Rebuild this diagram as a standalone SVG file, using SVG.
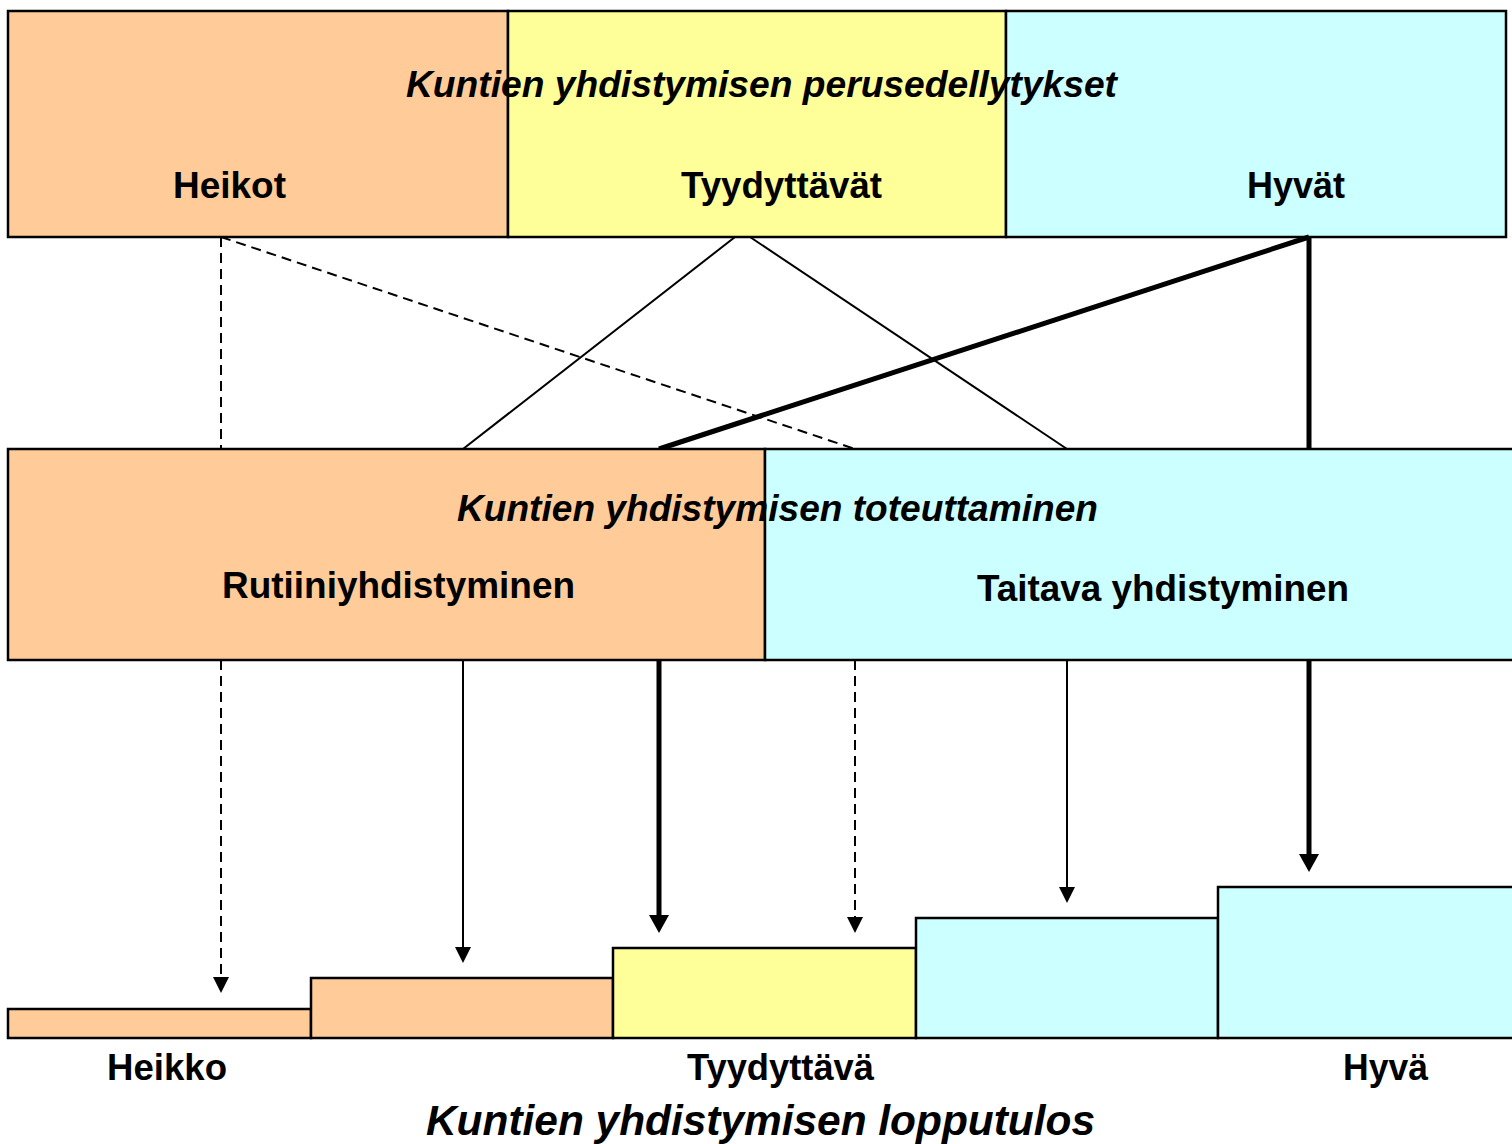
<svg xmlns="http://www.w3.org/2000/svg" width="1512" height="1144" viewBox="0 0 1512 1144">
<style>
.or{fill:#FFCC99}.ye{fill:#FFFF99}.cy{fill:#CCFFFF}
.box{stroke:#000;stroke-width:2.5}
.t{font-family:"Liberation Sans",Arial,sans-serif;font-weight:bold;fill:#000;text-anchor:middle}
.it{font-style:italic}
.thin{stroke:#000;stroke-width:2;fill:none}
.thick{stroke:#000;stroke-width:5;fill:none}
.dash{stroke:#000;stroke-width:2;fill:none;stroke-dasharray:10 6}
</style>
<defs>
<marker id="ah" markerUnits="userSpaceOnUse" markerWidth="16" markerHeight="16" refX="0" refY="8" orient="auto" viewBox="0 0 16 16">
<path d="M0,0 L16,8 L0,16 Z" fill="#000"/>
</marker>
<marker id="ahb" markerUnits="userSpaceOnUse" markerWidth="18" markerHeight="20" refX="0" refY="10" orient="auto" viewBox="0 0 18 20">
<path d="M0,0 L18,10 L0,20 Z" fill="#000"/>
</marker>
</defs>
<rect width="1512" height="1144" fill="#fff"/>
<g id="top">
<rect x="8" y="11" width="500" height="226" class="or box"/>
<rect x="508" y="11" width="498" height="226" class="ye box"/>
<rect x="1006" y="11" width="500" height="226" class="cy box"/>
<text class="t it" x="761.5" y="97" font-size="36" textLength="711" lengthAdjust="spacingAndGlyphs">Kuntien yhdistymisen perusedellytykset</text>
<text class="t" x="229.5" y="198" font-size="36" textLength="113" lengthAdjust="spacingAndGlyphs">Heikot</text>
<text class="t" x="781.5" y="198" font-size="36" textLength="201" lengthAdjust="spacingAndGlyphs">Tyydyttävät</text>
<text class="t" x="1296" y="198" font-size="36" textLength="98" lengthAdjust="spacingAndGlyphs">Hyvät</text>
</g>
<g id="connectors">
<line x1="221" y1="237" x2="221" y2="449" class="dash"/>
<line x1="221" y1="237" x2="855" y2="449" class="dash"/>
<line x1="735" y1="237" x2="463" y2="449" class="thin"/>
<line x1="750" y1="237" x2="1067" y2="449" class="thin"/>
<line x1="1309" y1="237" x2="659" y2="449" class="thick"/>
<line x1="1309" y1="237" x2="1309" y2="449" class="thick"/>
<line x1="221" y1="660" x2="221" y2="977" class="dash" marker-end="url(#ah)"/>
<line x1="463" y1="660" x2="463" y2="947" class="thin" marker-end="url(#ah)"/>
<line x1="659" y1="660" x2="659" y2="915" class="thick" marker-end="url(#ahb)"/>
<line x1="855" y1="660" x2="855" y2="917" class="dash" marker-end="url(#ah)"/>
<line x1="1067" y1="660" x2="1067" y2="887" class="thin" marker-end="url(#ah)"/>
<line x1="1309" y1="660" x2="1309" y2="854" class="thick" marker-end="url(#ahb)"/>
</g>
<g id="middle">
<rect x="8" y="449" width="757" height="211" class="or box"/>
<rect x="765" y="449" width="750" height="211" class="cy box"/>
<text class="t it" x="777.5" y="521" font-size="36" textLength="641" lengthAdjust="spacingAndGlyphs">Kuntien yhdistymisen toteuttaminen</text>
<text class="t" x="398.5" y="598" font-size="36" textLength="353" lengthAdjust="spacingAndGlyphs">Rutiiniyhdistyminen</text>
<text class="t" x="1163" y="601" font-size="36" textLength="372" lengthAdjust="spacingAndGlyphs">Taitava yhdistyminen</text>
</g>
<g id="outcome">
<rect x="8" y="1009" width="303" height="29" class="or box"/>
<rect x="311" y="978" width="302" height="60" class="or box"/>
<rect x="613" y="948" width="303" height="90" class="ye box"/>
<rect x="916" y="918" width="302" height="120" class="cy box"/>
<rect x="1218" y="887" width="297" height="151" class="cy box"/>
<text class="t" x="167" y="1080" font-size="36" textLength="120" lengthAdjust="spacingAndGlyphs">Heikko</text>
<text class="t" x="780.5" y="1080" font-size="36" textLength="187" lengthAdjust="spacingAndGlyphs">Tyydyttävä</text>
<text class="t" x="1385.5" y="1080" font-size="36" textLength="85" lengthAdjust="spacingAndGlyphs">Hyvä</text>
<text class="t it" x="760.5" y="1135" font-size="42" textLength="669" lengthAdjust="spacingAndGlyphs">Kuntien yhdistymisen lopputulos</text>
</g>
</svg>
